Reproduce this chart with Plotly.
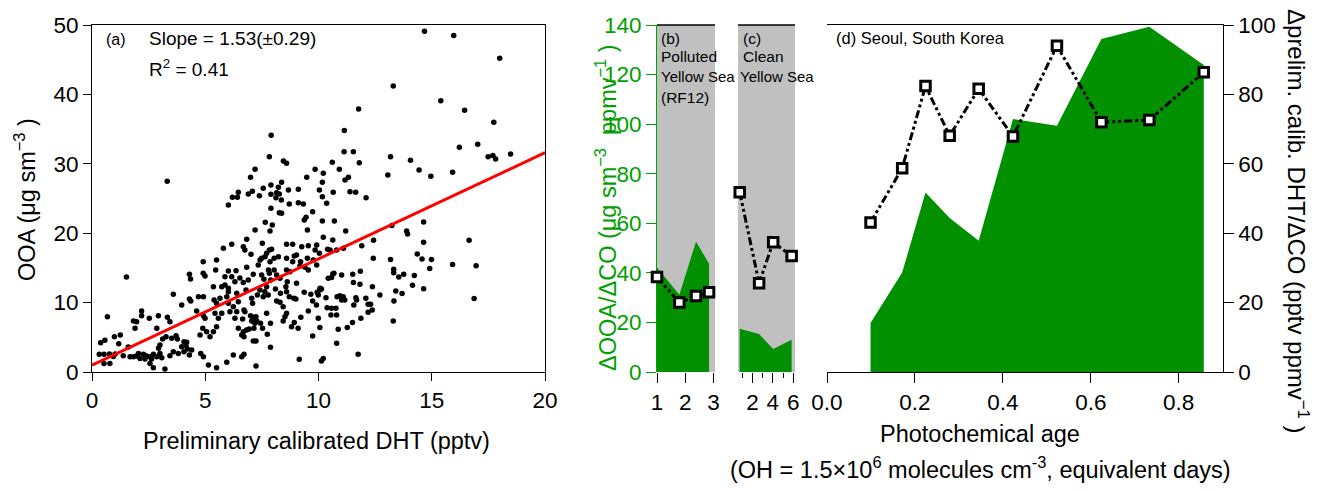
import plotly.graph_objects as go

# -----------------------------
# panel (a): OOA vs preliminary calibrated DHT
# -----------------------------
pts_low = [
    (0.68, 7.97), (0.38, 4.22), (0.57, 4.56), (0.32, 2.54), (0.53, 2.54), (0.77, 2.59), (0.94, 2.25),
    (1.02, 2.59), (0.53, 1.24), (0.79, 1.24), (0.99, 5.09), (1.25, 5.33), (1.18, 4.08), (1.38, 2.35),
    (1.60, 3.60), (1.68, 2.20), (1.83, 7.35), (1.97, 7.25), (1.90, 6.29), (2.19, 8.79), (2.19, 8.12),
    (1.83, 2.20), (1.97, 2.30), (2.12, 1.96), (2.27, 2.54), (2.41, 2.30), (2.56, 2.20), (2.71, 2.54),
    (2.86, 2.20), (3.00, 2.68), (3.08, 2.06), (2.05, 2.68), (2.34, 1.86), (2.63, 1.86), (2.56, 1.24),
    (2.71, 0.62), (3.22, 0.42), (2.53, 7.73), (2.93, 8.12), (3.33, 7.88), (3.44, 7.25), (2.86, 6.29),
    (3.12, 4.75), (3.27, 5.09), (3.00, 3.89), (2.94, 3.41), (3.44, 2.35), (3.59, 2.92), (3.71, 5.23),
    (3.77, 4.75), (3.52, 4.85), (3.59, 11.19), (3.96, 9.66), (4.30, 10.52), (4.36, 10.23), (4.70, 10.86),
    (4.92, 10.86), (4.06, 4.37), (4.15, 3.79), (4.21, 3.31), (4.06, 2.92), (4.30, 2.44), (4.40, 3.17),
    (4.18, 4.27), (3.96, 3.65), (3.81, 2.68), (4.62, 8.79), (4.92, 8.12), (4.99, 7.73), (4.89, 6.29),
    (5.06, 5.81), (4.77, 5.33), (5.21, 5.09), (5.36, 5.81), (5.50, 6.53), (5.58, 7.73), (5.43, 8.45),
    (5.73, 8.45), (5.50, 9.90), (5.65, 10.62), (5.39, 10.38), (5.95, 10.86), (6.02, 9.90), (6.09, 8.69),
    (6.24, 9.41), (6.39, 8.69), (6.31, 7.73), (6.46, 6.29), (6.02, 11.58), (5.73, 12.30), (5.36, 12.30),
    (6.39, 11.34), (6.46, 10.14), (4.80, 2.68), (4.92, 2.20), (5.14, 1.00), (5.50, 0.62), (5.95, 1.39),
    (6.24, 2.44),
]
pts_mid_low = [
    (6.80, 11.82), (7.05, 10.62), (7.09, 9.90), (7.30, 11.10), (7.41, 11.82), (7.56, 10.86), (7.63, 11.58),
    (7.78, 11.10), (7.71, 12.30), (8.10, 11.96), (8.32, 11.34), (8.59, 11.58), (8.56, 12.30), (8.15, 10.23),
    (8.30, 10.04), (8.44, 9.41), (8.71, 10.86), (8.91, 10.62), (9.00, 10.52), (9.37, 11.48), (9.66, 11.19),
    (9.74, 10.23), (9.91, 9.66), (9.94, 11.48), (10.06, 11.82), (10.13, 11.96), (9.99, 11.10), (10.33, 10.71),
    (10.38, 9.27), (10.57, 9.17), (10.77, 9.17), (10.55, 8.21), (10.80, 8.21), (10.82, 10.86), (10.94, 11.00),
    (11.09, 10.86), (11.02, 10.38), (11.16, 10.38), (11.65, 10.71), (11.68, 10.38), (11.56, 9.66),
    (12.09, 10.62), (12.19, 9.75), (12.30, 9.75), (12.19, 8.60), (12.37, 8.93), (12.71, 11.10),
    (13.41, 11.67), (13.33, 10.23), (13.30, 7.35), (6.71, 8.93), (6.75, 8.69), (6.65, 7.64), (7.00, 8.12),
    (7.12, 7.88), (7.24, 7.97), (7.05, 7.35), (7.27, 7.35), (7.19, 7.01), (7.71, 8.45), (7.88, 7.01),
    (7.44, 7.01), (7.53, 6.29), (7.15, 6.29), (6.82, 6.05), (6.68, 5.81), (6.61, 5.33), (6.71, 5.09),
    (6.94, 6.19), (7.74, 5.43), (7.12, 4.46), (7.24, 4.46), (7.88, 3.55), (8.59, 8.45), (8.52, 7.97),
    (8.44, 7.35), (8.81, 6.53), (8.93, 7.15), (9.10, 6.29), (9.22, 7.88), (9.55, 8.79), (9.99, 7.73),
    (10.06, 6.43), (9.74, 5.18), (10.87, 6.15), (11.27, 6.43), (11.50, 7.15), (11.87, 7.73), (10.80, 4.13),
    (11.75, 2.54), (10.21, 1.96), (10.13, 1.58), (9.15, 1.82), (6.71, 2.54), (6.61, 2.20), (7.24, 0.86),
]
pts_mid_high = [
    (7.83, 31.03), (8.45, 30.40), (8.59, 30.07), (7.20, 29.20), (7.00, 28.05), (6.02, 24.06), (6.20, 25.17),
    (6.42, 25.17), (6.46, 25.89), (6.90, 25.65), (7.08, 26.03), (7.39, 25.41), (7.56, 26.47), (7.90, 26.95),
    (8.23, 26.61), (8.15, 25.84), (8.37, 27.33), (7.90, 25.60), (8.27, 25.65), (8.12, 25.12), (8.36, 24.78),
    (8.67, 26.23), (9.11, 26.32), (8.71, 24.21), (9.11, 24.40), (9.33, 24.21), (7.90, 23.60), (8.27, 22.96),
    (8.37, 22.86), (9.48, 28.05), (9.85, 29.20), (10.21, 28.63), (10.17, 27.33), (9.74, 23.10), (9.45, 22.29),
    (9.37, 21.90), (10.04, 26.23), (10.17, 25.27), (10.36, 24.30), (10.65, 25.89), (10.61, 30.21),
    (10.92, 29.20), (11.17, 27.67), (11.32, 28.05), (11.13, 31.75), (11.54, 31.75), (11.80, 30.16),
    (11.39, 25.99), (11.64, 25.89), (12.10, 25.12), (7.65, 21.57), (7.86, 20.32), (7.96, 21.18),
    (7.20, 20.46), (10.17, 21.76), (10.70, 21.76), (9.51, 20.46), (11.20, 20.32), (6.83, 19.12),
    (7.52, 18.54), (6.68, 18.06), (6.17, 18.40), (5.80, 17.82), (10.21, 19.41), (10.63, 19.02),
    (10.40, 17.68), (10.51, 17.58), (10.80, 17.58), (11.10, 17.82), (11.91, 18.20), (12.42, 16.38),
    (7.83, 17.58), (7.93, 17.68), (7.71, 17.10), (7.64, 16.62), (7.49, 16.38), (7.42, 16.14), (7.02, 16.96),
    (6.75, 17.58), (7.34, 15.42), (7.86, 15.90), (8.23, 16.62), (8.04, 16.38), (8.59, 18.40), (8.86, 18.40),
    (9.26, 18.06), (9.55, 18.20), (9.92, 18.30), (9.85, 17.58), (9.03, 16.86), (8.93, 16.72), (9.21, 15.90),
    (9.51, 16.38), (9.77, 16.14), (8.59, 16.38), (8.86, 15.90), (8.59, 14.70), (9.18, 15.28), (9.40, 15.08),
    (9.92, 15.42), (10.04, 17.10), (4.91, 15.90), (5.50, 16.14), (5.46, 14.70), (4.91, 14.22), (4.99, 13.83),
    (6.02, 14.55), (6.36, 14.60), (6.83, 15.08), (6.53, 13.55), (6.17, 13.74), (7.12, 14.07), (6.90, 13.26),
    (7.49, 13.98), (7.59, 13.35), (7.83, 14.22), (8.04, 14.70), (8.15, 13.98), (8.30, 13.50), (7.89, 13.26),
    (7.79, 14.70), (8.74, 14.46), (8.62, 13.02), (9.03, 12.78), (9.55, 14.70), (10.07, 12.06), (10.43, 13.50),
    (10.63, 14.12), (10.68, 14.22), (10.58, 13.60), (11.02, 13.98), (11.51, 14.07), (11.54, 12.88),
    (11.83, 12.64), (5.87, 12.54), (6.02, 12.06), (6.68, 12.88), (5.87, 13.74), (6.31, 13.02),
]
pts_sparse = [
    (14.68, 49.1), (15.97, 48.5), (18.0, 45.2), (13.3, 41.2), (15.4, 39.1), (11.77, 37.9), (16.45, 37.7),
    (17.74, 36.0), (11.14, 34.8), (7.91, 34.1), (16.22, 32.4), (17.03, 32.8), (18.48, 31.4), (13.18, 31.0),
    (17.49, 31.0), (17.7, 31.2), (17.82, 30.7), (14.06, 30.5), (14.44, 29.1), (14.96, 28.2), (15.92, 28.8),
    (13.06, 28.4), (14.64, 21.6), (13.89, 20.3), (13.93, 19.9), (16.65, 19.0), (13.24, 21.1), (14.64, 18.7),
    (13.18, 16.2), (14.36, 17.0), (14.57, 16.3), (14.99, 16.2), (15.92, 15.5), (16.96, 15.3), (14.91, 14.9),
    (13.32, 14.8), (13.32, 14.3), (13.54, 13.7), (13.76, 14.1), (14.23, 13.9), (14.15, 12.5), (14.64, 12.0),
    (12.43, 19.0), (11.85, 14.5), (13.69, 11.3), (16.87, 10.6), (12.38, 12.3), (1.52, 13.7), (3.32, 27.5),
    (4.30, 14.1), (4.35, 13.4),
]
fit_slope = 1.53
fit_intercept = 1.0
fit_range = [0, 20]

# -----------------------------
# panels (b), (c), (d)
# -----------------------------
age_b = [1.0, 1.79, 2.38, 2.84]
ooa_co_b = [42.2, 31.2, 52.6, 43.7]
dht_co_b = [27.4, 20.0, 21.9, 23.0]

age_c = [0.75, 2.65, 4.03, 5.84]
ooa_co_c = [17.5, 15.3, 9.3, 13.0]
dht_co_c = [51.8, 25.6, 37.4, 33.4]

age_d = [0.099, 0.171, 0.224, 0.279, 0.345, 0.423, 0.523, 0.624, 0.733, 0.857]
ooa_co_d = [19.8, 40.1, 72.4, 62.1, 53.0, 102.1, 99.4, 134.4, 139.3, 123.9]
dht_co_d = [43.1, 58.7, 82.4, 68.1, 81.6, 67.9, 94.0, 72.0, 72.6, 86.4]

FONT = "Liberation Sans"
GREEN_FILL = "#009000"
GREEN_TXT = "#00a000"
GRAY = "#c0c0c0"
DASH = "8px,3px,3px,3px,3px,3px"
NB = "\u00a0"

W, H = 1319, 491
def px(x): return x / W
def py(y): return 1 - y / H

YDOM = [py(372), py(25)]

pts = pts_low + pts_mid_low + pts_mid_high + pts_sparse
dht = [p[0] for p in pts]
ooa = [p[1] for p in pts]

fig = go.Figure()

fig.add_trace(go.Scatter(x=dht, y=ooa, mode="markers", xaxis="x", yaxis="y",
                         marker=dict(color="black", size=5.5), showlegend=False))
fig.add_trace(go.Scatter(x=fit_range, y=[fit_intercept + fit_slope * v for v in fit_range],
                         mode="lines", xaxis="x", yaxis="y",
                         line=dict(color="red", width=3), showlegend=False))

for xa, ages, area, ratio in [("x2", age_b, ooa_co_b, dht_co_b),
                              ("x3", age_c, ooa_co_c, dht_co_c),
                              ("x4", age_d, ooa_co_d, dht_co_d)]:
    fig.add_trace(go.Scatter(x=ages, y=area, mode="lines", fill="tozeroy", xaxis=xa, yaxis="y2",
                             fillcolor=GREEN_FILL, line=dict(width=0, color=GREEN_FILL),
                             showlegend=False))
    fig.add_trace(go.Scatter(x=ages, y=ratio, mode="lines+markers", xaxis=xa, yaxis="y3",
                             line=dict(color="black", width=3, dash=DASH),
                             marker=dict(symbol="square", size=9.5, color="white",
                                         line=dict(color="black", width=3)),
                             cliponaxis=False, showlegend=False))

tick_font = dict(family=FONT, size=22.5, color="black")
base = dict(showgrid=False, zeroline=False, ticks="outside", tickcolor="black",
            tickfont=tick_font, linecolor="black", automargin=False)

shapes = []
for xa in ["x2", "x3"]:
    shapes.append(dict(type="rect", xref=xa + " domain", yref="y2 domain", x0=0, x1=1, y0=0, y1=1,
                       fillcolor=GRAY, line=dict(width=0), layer="below"))
    shapes.append(dict(type="line", xref=xa + " domain", yref="y2 domain", x0=0, x1=1, y0=1, y1=1,
                       line=dict(color="black", width=1.5)))

def note(text, x, y, size=15.5, xanchor="left", angle=0, color="black"):
    return dict(text=text, x=x, y=y, xref="paper", yref="paper", xanchor=xanchor, yanchor="middle",
                showarrow=False, textangle=angle, font=dict(family=FONT, size=size, color=color))

annotations = [
    note("(a)", px(104), py(39), size=16),
    note("Slope = 1.53(±0.29)", px(147), py(38), size=19),
    note("R<sup>2</sup> = 0.41", px(147), py(68), size=19),
    note("Preliminary calibrated DHT (pptv)", px(316), py(441), size=23.5, xanchor="center"),
    note("OOA (μg sm<sup>−3</sup>" + NB + ")", px(25), py(200), size=23.5, xanchor="center", angle=-90),
    note("ΔOOA/ΔCO (μg sm<sup>−3</sup>" + NB * 2 + "ppmv<sup>−1</sup>" + NB + ")", px(606), py(208),
         size=23.5, xanchor="center", angle=-90, color=GREEN_TXT),
    note("Δprelim. calib. DHT/ΔCO (pptv ppmv<sup>−1</sup>" + NB + ")", px(1298), py(221), size=24,
         xanchor="center", angle=90),
    note("(b)", px(659), py(38)),
    note("Polluted", px(659), py(57)),
    note("Yellow Sea", px(659), py(76), size=15),
    note("(RF12)", px(659), py(97)),
    note("(c)", px(741), py(38)),
    note("Clean", px(741), py(56)),
    note("Yellow Sea", px(738), py(76), size=15),
    note("(d) Seoul, South Korea", px(834), py(38), size=16.5),
    note("Photochemical age", px(980), py(434), size=23.5, xanchor="center"),
    note("(OH = 1.5×10<sup>6</sup> molecules cm<sup>-3</sup>, equivalent days)", px(980), py(468),
         size=23.5, xanchor="center"),
]

fig.update_layout(
    width=W, height=H,
    margin=dict(l=0, r=0, t=0, b=0, autoexpand=False),
    paper_bgcolor="white", plot_bgcolor="rgba(0,0,0,0)",
    font=dict(family=FONT, color="black"),
    showlegend=False,
    xaxis=dict(base, domain=[px(92), px(545)], range=[0, 20], dtick=5, anchor="y",
               showline=True, mirror=True, ticklen=8),
    yaxis=dict(base, domain=YDOM, range=[0, 50], dtick=10, anchor="x",
               showline=True, mirror=True, ticklen=8),
    xaxis2=dict(base, domain=[px(657), px(715)], range=[1, 3.05], tickvals=[1, 2, 3],
                anchor="y2", showline=False, ticklen=10),
    yaxis2=dict(base, domain=YDOM, range=[0, 140], dtick=20, anchor="x2", showline=True,
                linecolor=GREEN_TXT, tickcolor=GREEN_TXT, ticklen=10,
                tickfont=dict(family=FONT, size=22.5, color=GREEN_TXT)),
    xaxis3=dict(base, domain=[px(738), px(795)], range=[0.58, 6.17], tickmode="linear", tick0=0,
                dtick=2, anchor="y2", showline=False, ticklen=10,
                minor=dict(ticks="outside", dtick=1, tick0=0, ticklen=5, tickcolor="black")),
    xaxis4=dict(base, domain=[px(827), px(1222.7)], range=[0, 0.9], dtick=0.2, tickformat=".1f",
                anchor="y3", showline=True, mirror=True, ticklen=10),
    yaxis3=dict(base, domain=YDOM, range=[0, 100], dtick=20, anchor="x4", side="right",
                showline=True, ticklen=10),
    shapes=shapes,
    annotations=annotations,
)

fig.write_html("out.html", config={"displayModeBar": False},
               post_script="document.body.style.margin='0';")
